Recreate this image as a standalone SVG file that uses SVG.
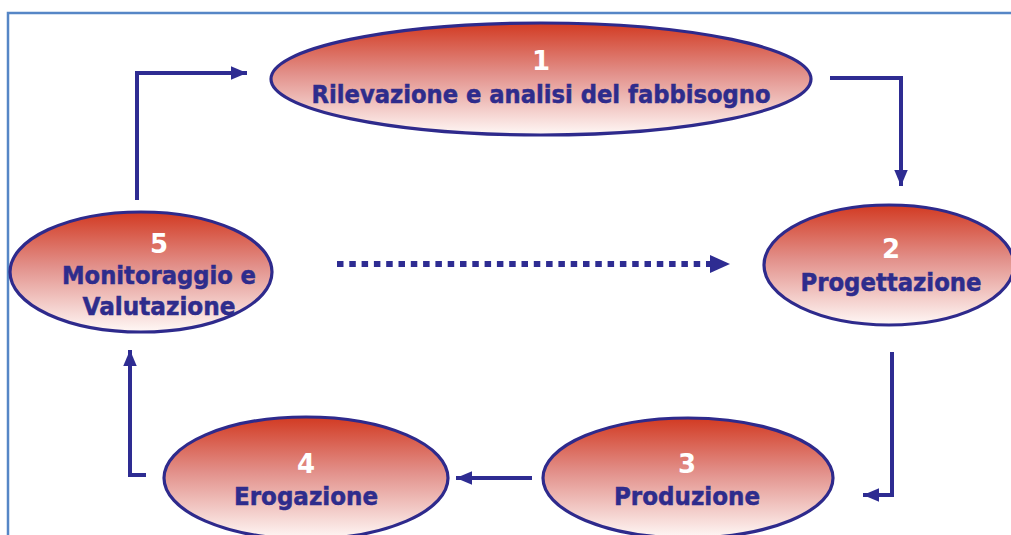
<svg xmlns="http://www.w3.org/2000/svg" width="1011" height="535" viewBox="0 0 1011 535">
<style>
.node{stroke:#2E2A8C;stroke-width:3.2;fill:url(#g)}
.lbl{font-family:"DejaVu Sans","Verdana",sans-serif;font-weight:bold;font-size:24px;fill:#2E2C8C;stroke:#2E2C8C;stroke-width:0.5;text-anchor:middle}
.num{font-family:"DejaVu Sans",sans-serif;font-weight:bold;font-size:26px;fill:#FFFFFF;text-anchor:middle}
.con{fill:none;stroke:#2E2C92;stroke-width:4}
.dot{fill:none;stroke:#2E2C92;stroke-width:6;stroke-dasharray:6.5 5.8}
</style>
<defs>
<linearGradient id="g" x1="0" y1="0" x2="0" y2="1">
<stop offset="0" stop-color="#D23A22"/>
<stop offset="0.45" stop-color="#E2908A"/>
<stop offset="1" stop-color="#FFF8F6"/>
</linearGradient>
<marker id="ah" viewBox="0 0 10 10" refX="10" refY="5" markerWidth="4" markerHeight="4" orient="auto" markerUnits="strokeWidth">
<path d="M0,0.8 L10,5 L0,9.2 z" fill="#2E2C92"/>
</marker>
</defs>
<rect width="1011" height="535" fill="#FFFFFF"/>
<path d="M8,540 L8,13 L1015,13" fill="none" stroke="#5686C6" stroke-width="2.5"/>
<g id="connectors">
<path class="con" d="M137,200 L137,73 L247,73" marker-end="url(#ah)"/>
<path class="con" d="M830,78 L901,78 L901,186" marker-end="url(#ah)"/>
<path class="con" d="M892,352 L892,495 L863,495" marker-end="url(#ah)"/>
<path class="con" d="M532,478 L456,478" marker-end="url(#ah)"/>
<path class="con" d="M146,475 L130,475 L130,350" marker-end="url(#ah)"/>
<path class="dot" d="M337,264 L712,264"/>
<path d="M710,255 L730,264 L710,273 z" fill="#2E2C92"/>
</g>
<g id="node1">
<ellipse class="node" cx="541" cy="79" rx="270" ry="56"/>
<text class="num" x="541" y="70">1</text>
<text class="lbl" x="541" y="103" textLength="459" lengthAdjust="spacingAndGlyphs">Rilevazione e analisi del fabbisogno</text>
</g>
<g id="node2">
<ellipse class="node" cx="889" cy="265" rx="125" ry="60"/>
<text class="num" x="891" y="258">2</text>
<text class="lbl" x="891" y="291" textLength="181" lengthAdjust="spacingAndGlyphs">Progettazione</text>
</g>
<g id="node3">
<ellipse class="node" cx="688" cy="478" rx="145" ry="60"/>
<text class="num" x="687" y="473">3</text>
<text class="lbl" x="687" y="505" textLength="146" lengthAdjust="spacingAndGlyphs">Produzione</text>
</g>
<g id="node4">
<ellipse class="node" cx="306" cy="478" rx="142" ry="61"/>
<text class="num" x="306" y="473">4</text>
<text class="lbl" x="306" y="505" textLength="144" lengthAdjust="spacingAndGlyphs">Erogazione</text>
</g>
<g id="node5">
<ellipse class="node" cx="141" cy="272" rx="131" ry="60"/>
<text class="num" x="159" y="253">5</text>
<text class="lbl" x="159" y="284" textLength="194" lengthAdjust="spacingAndGlyphs">Monitoraggio e</text>
<text class="lbl" x="159" y="315" textLength="153" lengthAdjust="spacingAndGlyphs">Valutazione</text>
</g>
</svg>
